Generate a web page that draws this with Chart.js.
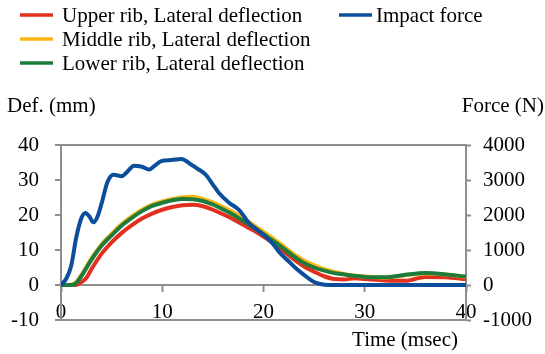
<!DOCTYPE html>
<html><head><meta charset="utf-8">
<script src="https://cdn.jsdelivr.net/npm/chart.js@4.4.1/dist/chart.umd.min.js"></script>
<style>html,body{margin:0;padding:0;background:#fff;}#wrap{width:545px;height:354px;position:relative;}</style>
</head><body><div id="wrap"><canvas id="c" width="545" height="354"></canvas></div>
<script>
// ---- data ----
const defTime = [0,1,1.5,2,2.5,3,4,5,6,7,8,9,10,11,12,13,14,15,16,17,18,19,20,21,22,23,24,25,26,27,28,29,30,32,34,36,38,40];
const upperRib = [0,0,0,0.8,2.0,4.5,8.9,12.2,14.9,17.1,19.0,20.4,21.5,22.3,22.8,22.9,22.5,21.5,20.2,18.8,17.2,15.6,13.8,11.8,9.6,7.3,5.3,3.8,2.5,1.7,1.6,1.9,1.7,1.3,1.2,2.3,2.2,1.7];
const middleRib = [0,0.1,0.8,2.8,5.2,7.6,11.6,14.6,17.4,19.6,21.5,23.0,23.9,24.6,25.1,25.2,24.6,23.6,22.3,20.8,19.1,17.2,15.2,13.2,11.0,8.8,7.0,5.6,4.5,3.7,3.1,2.7,2.4,2.1,2.8,3.3,3.0,2.3];
const lowerRib = [0,0,0.6,2.5,4.8,7.2,11.2,14.2,17.0,19.2,21.1,22.6,23.5,24.2,24.6,24.5,24.0,23.0,21.6,20.1,18.3,16.5,14.5,12.5,10.4,8.2,6.3,5.0,4.1,3.4,3.0,2.6,2.3,2.2,2.9,3.4,3.0,2.4];
const forceTime = [0,0.5,1,1.5,2,2.4,2.8,3.2,3.6,4,4.6,5.2,6,6.6,7.2,8,8.7,9.3,9.9,10.9,11.9,12.8,13.5,14.3,15,15.6,16.6,17.6,18.6,19.5,20.3,21,21.6,22.4,23.2,24,24.9,25.6,26.5,28,30,32,34,36,38,40];
const impactForce = [0,170,540,1350,1900,2060,1960,1790,1950,2320,2950,3150,3110,3250,3410,3380,3300,3420,3540,3570,3600,3450,3320,3150,2870,2630,2350,2140,1760,1550,1360,1150,920,700,480,290,100,30,0,0,0,0,0,0,0,0];
const seriesNames = ['Upper rib, Lateral deflection','Middle rib, Lateral deflection','Lower rib, Lateral deflection','Impact force'];
const xTickValues = [0,10,20,30,40];
const defTickValues = [-10,0,10,20,30,40];
const forceTickValues = [-1000,0,1000,2000,3000,4000];
const axisTitles = {left:'Def. (mm)', right:'Force (N)', bottom:'Time (msec)'};

// ---- styles ----
const colors = ['#E2301F','#FDB515','#1D7C3B','#0B4E9B'];
const GRAY = '#8E8E8E';
const FONT_FAMILY = '"Liberation Serif","Times New Roman",serif';
const FONT_SIZE = 21;

const pts = (xs, ys) => xs.map((x,i)=>({x:x, y:ys[i]}));
const lineDs = (i, data, axis, order) => ({
  label: seriesNames[i], data: data, yAxisID: axis, order: order,
  borderColor: colors[i], backgroundColor: colors[i], borderWidth: 4,
  pointRadius: 0, cubicInterpolationMode: 'monotone', fill: false
});

const overlay = {
  id: 'overlay',
  afterDraw(chart) {
    const ctx = chart.ctx, ca = chart.chartArea;
    ctx.save();
    ctx.font = FONT_SIZE + 'px ' + FONT_FAMILY;
    ctx.fillStyle = '#000';
    const slots = [{lx:20,tx:62,y:15},{lx:20,tx:62,y:39},{lx:20,tx:62,y:63},{lx:339,tx:376,y:15}];
    chart.data.datasets.forEach((ds, i) => {
      const s = slots[i];
      ctx.strokeStyle = ds.borderColor; ctx.lineWidth = 3.5; ctx.lineCap = 'butt';
      ctx.beginPath(); ctx.moveTo(s.lx, s.y); ctx.lineTo(s.lx + 33, s.y); ctx.stroke();
      ctx.textAlign = 'left'; ctx.textBaseline = 'middle';
      ctx.fillText(ds.label, s.tx, s.y + 1);
    });
    ctx.textBaseline = 'alphabetic';
    ctx.textAlign = 'left';
    ctx.fillText(axisTitles.left, 7, ca.top - 33);
    ctx.textAlign = 'right';
    ctx.fillText(axisTitles.right, 544, ca.top - 33);
    ctx.fillText(axisTitles.bottom, ca.right - 8, ca.bottom + 26);
    ctx.restore();
  }
};

new Chart(document.getElementById('c'), {
  type: 'line',
  data: {
    datasets: [
      lineDs(0, pts(defTime, upperRib), 'y', 4),
      lineDs(1, pts(defTime, middleRib), 'y', 3),
      lineDs(2, pts(defTime, lowerRib), 'y', 2),
      lineDs(3, pts(forceTime, impactForce), 'y1', 1)
    ]
  },
  options: {
    responsive: false, animation: false, devicePixelRatio: 1,
    layout: { padding: { top: 145, bottom: 34, left: 0, right: 0 } },
    plugins: { legend: { display: false }, tooltip: { enabled: false } },
    scales: {
      x: {
        type: 'linear', min: 0, max: 40, position: { y: 0 },
        afterBuildTicks: s => { s.ticks = xTickValues.map(v => ({ value: v })); },
        ticks: { font: { family: FONT_FAMILY, size: FONT_SIZE }, color: '#000', padding: 9, maxRotation: 0, autoSkip: false },
        grid: { drawOnChartArea: false, drawTicks: true, tickLength: 6, tickColor: GRAY, tickWidth: 2 },
        border: { display: true, color: GRAY, width: 2 }
      },
      y: {
        position: 'left', min: -10, max: 40,
        afterBuildTicks: s => { s.ticks = defTickValues.map(v => ({ value: v })); },
        afterFit: s => { s.width = 61; },
        ticks: { font: { family: FONT_FAMILY, size: FONT_SIZE }, color: '#000', padding: 16 },
        grid: {
          color: c => (c.tick && (c.tick.value === 40 || c.tick.value === -10)) ? GRAY : 'rgba(0,0,0,0)',
          lineWidth: 2, tickColor: GRAY, tickWidth: 2, tickLength: 6, drawTicks: true
        },
        border: { display: true, color: GRAY, width: 2 }
      },
      y1: {
        position: 'right', min: -1000, max: 4000,
        afterBuildTicks: s => { s.ticks = forceTickValues.map(v => ({ value: v })); },
        afterFit: s => { s.width = 79; },
        ticks: { font: { family: FONT_FAMILY, size: FONT_SIZE }, color: '#000', padding: 12, callback: v => String(v) },
        grid: { drawOnChartArea: false, tickColor: GRAY, tickWidth: 2, tickLength: 5 },
        border: { display: true, color: GRAY, width: 2 }
      }
    }
  },
  plugins: [overlay]
});
</script>
</body></html>
